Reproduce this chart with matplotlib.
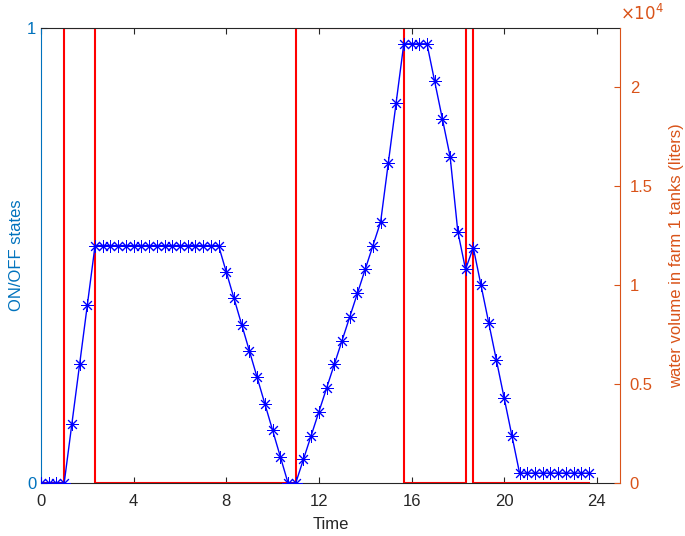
import numpy as np
import matplotlib
matplotlib.use('Agg')
import matplotlib.pyplot as plt
from matplotlib.ticker import FuncFormatter

plt.rcParams['font.family'] = ['Liberation Sans', 'DejaVu Sans']

# sampling every 20 minutes over the day
time = np.arange(72) / 3

# pump ON/OFF state at each sample
states = [0, 0, 0, 1, 1, 1, 1, 0, 0, 0, 0, 0,
          0, 0, 0, 0, 0, 0, 0, 0, 0, 0, 0, 0,
          0, 0, 0, 0, 0, 0, 0, 0, 0, 1, 1, 1,
          1, 1, 1, 1, 1, 1, 1, 1, 1, 1, 1, 0,
          0, 0, 0, 0, 0, 0, 0, 1, 0, 0, 0, 0,
          0, 0, 0, 0, 0, 0, 0, 0, 0, 0, 0, 0]

# water volume in farm 1 tanks (liters)
volume = [0, 0, 0, 0, 3000, 6000, 9000,
          12000, 12000, 12000, 12000, 12000, 12000, 12000, 12000, 12000,
          12000, 12000, 12000, 12000, 12000, 12000, 12000, 12000,
          10667, 9333, 8000, 6667, 5333, 4000, 2667, 1333, 0, 0,
          1200, 2400, 3600, 4800, 6000, 7200, 8400, 9600, 10800, 12000,
          13200, 16200, 19200,
          22200, 22200, 22200, 22200,
          20300, 18400, 16500, 12700, 10800, 11900, 10000, 8100, 6200,
          4300, 2400, 500,
          500, 500, 500, 500, 500, 500, 500, 500, 500]

x_ticks = [0, 4, 8, 12, 16, 20, 24]
vol_ticks = [0, 5000, 10000, 15000, 20000]

left_color = '#0072BD'
right_color = '#D95319'
axis_color = '#262626'

fig = plt.figure(figsize=(6.85, 5.36), dpi=100)
ax = fig.add_axes([0.0599, 0.0989, 0.8451, 0.8489])

ax.plot(time, states, color='red', linewidth=1.5, drawstyle='steps-post', zorder=2)
ax.set_xlim(0, 25)
ax.set_ylim(0, 1)
ax.set_xticks(x_ticks)
ax.set_yticks([0, 1])
ax.set_xlabel('Time', fontsize=12, color=axis_color, labelpad=6)
ax.set_ylabel('ON/OFF states', fontsize=12, color=left_color, labelpad=2)
ax.tick_params(axis='x', direction='in', length=4, top=True, labelsize=12,
               colors=axis_color, width=0.8, pad=8)
ax.tick_params(axis='y', direction='in', length=4, labelsize=12,
               colors=left_color, width=0.8)
ax.spines['left'].set_color(left_color)
ax.spines['top'].set_color(axis_color)
ax.spines['bottom'].set_color(axis_color)
ax.spines['right'].set_visible(False)
for s in ax.spines.values():
    s.set_linewidth(0.8)

ax2 = ax.twinx()
ax2.plot(time, volume, color='blue', linewidth=1.0, marker=(8, 2, 0),
         markersize=9, markeredgewidth=0.7)
ax2.set_ylim(0, 23000)
ax2.set_yticks(vol_ticks)
ax2.yaxis.set_major_formatter(FuncFormatter(lambda v, p: f'{v / 1e4:g}'))
ax2.set_ylabel('water volume in farm 1 tanks (liters)', fontsize=12,
               color=right_color, labelpad=12)
ax2.tick_params(axis='y', direction='in', length=4, labelsize=12,
                colors=right_color, width=0.8, pad=7)
ax2.spines['right'].set_color(right_color)
ax2.spines['right'].set_linewidth(0.8)
for side in ['left', 'top', 'bottom']:
    ax2.spines[side].set_visible(False)
ax2.text(1.0, 1.012, r'$\times10^{4}$', transform=ax2.transAxes, fontsize=12,
         color=right_color, ha='left', va='bottom')

fig.savefig('out.png', dpi=100)
